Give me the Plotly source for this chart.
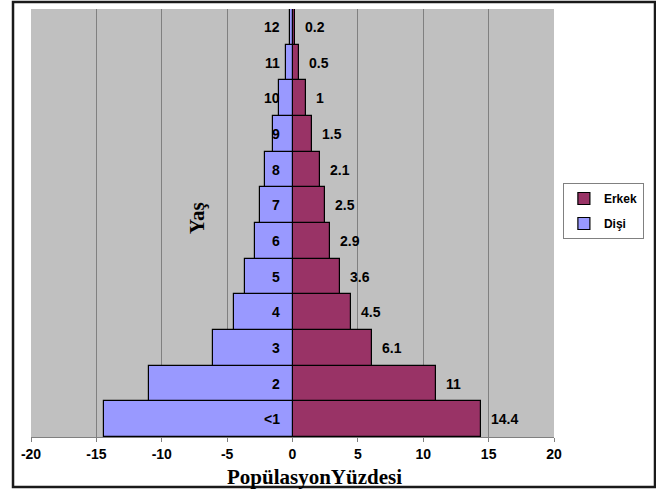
import plotly.graph_objects as go

# Age groups (bottom to top) and population share (%) by sex
ages = ["<1", "2", "3", "4", "5", "6", "7", "8", "9", "10", "11", "12"]
erkek = [14.4, 11, 6.1, 4.5, 3.6, 2.9, 2.5, 2.1, 1.5, 1, 0.5, 0.2]
disi = [-14.4, -11, -6.1, -4.5, -3.6, -2.9, -2.5, -2.1, -1.5, -1, -0.5, -0.2]
x_ticks = [-20, -15, -10, -5, 0, 5, 10, 15, 20]

label_font = dict(family="Arial", size=14, color="black", weight="bold")

fig = go.Figure()
fig.add_trace(go.Bar(
    y=ages, x=erkek, orientation="h", name="Erkek",
    marker=dict(color="#993366", line=dict(color="black", width=1.2)),
    legendgroup="erkek",
))
fig.add_trace(go.Bar(
    y=ages, x=disi, orientation="h", name="Dişi",
    marker=dict(color="#9999FF", line=dict(color="black", width=1.2)),
    legendgroup="disi",
))

annotations = []
# age labels sitting just left of the centre line
# (category positions given by index so "2", "10" ... are not read as numbers)
for i, a in enumerate(ages):
    annotations.append(dict(
        x=0, y=i, xref="x", yref="y", text=a, showarrow=False,
        xanchor="right", yanchor="middle", xshift=-11, font=label_font,
    ))
# value labels beyond the right-hand bars
for i, v in enumerate(erkek):
    annotations.append(dict(
        x=v, y=i, xref="x", yref="y", text=f"{v:g}", showarrow=False,
        xanchor="left", yanchor="middle", xshift=8, font=label_font,
    ))
# axis titles
annotations.append(dict(
    x=-7.3, y=0.512, xref="x", yref="paper", text="Yaş", showarrow=False,
    textangle=-90, xanchor="center", yanchor="middle",
    font=dict(family="Liberation Serif", size=21, color="black", weight="bold"),
))
annotations.append(dict(
    x=0.543, y=-0.093, xref="paper", yref="paper", text="PopülasyonYüzdesi",
    showarrow=False, xanchor="center", yanchor="middle",
    font=dict(family="Liberation Serif", size=21, color="black", weight="bold"),
))

fig.update_layout(
    width=656, height=489,
    margin=dict(l=31, r=102, t=9, b=52),
    paper_bgcolor="white",
    plot_bgcolor="#C0C0C0",
    barmode="overlay",
    bargap=0,
    showlegend=True,
    legend=dict(
        x=1.017, y=0.5935, xanchor="left", yanchor="top",
        bgcolor="white", bordercolor="#808080", borderwidth=1,
        font=dict(family="Arial", size=12, color="black", weight="bold"),
        tracegroupgap=6, traceorder="grouped",
    ),
    xaxis=dict(
        range=[-20, 20], tickvals=x_ticks, ticktext=[str(t) for t in x_ticks],
        showgrid=True, gridcolor="#808080", gridwidth=1,
        zeroline=False, showline=True, linecolor="#808080", linewidth=1,
        ticks="outside", ticklen=4, tickcolor="#808080",
        tickfont=label_font, fixedrange=True,
    ),
    yaxis=dict(
        type="category", categoryorder="array", categoryarray=ages,
        range=[-0.5, len(ages) - 0.5],
        showticklabels=False, showgrid=False, zeroline=False, ticks="",
        showline=False, fixedrange=True,
    ),
    annotations=annotations,
    shapes=[dict(
        type="rect", xref="paper", yref="paper",
        x0=-0.0344, x1=1.1931, y0=-0.1168, y1=1.0164,
        line=dict(color="#1a1a1a", width=2.5), fillcolor="rgba(0,0,0,0)",
        layer="above",
    )],
)

fig.write_html("out.html")
